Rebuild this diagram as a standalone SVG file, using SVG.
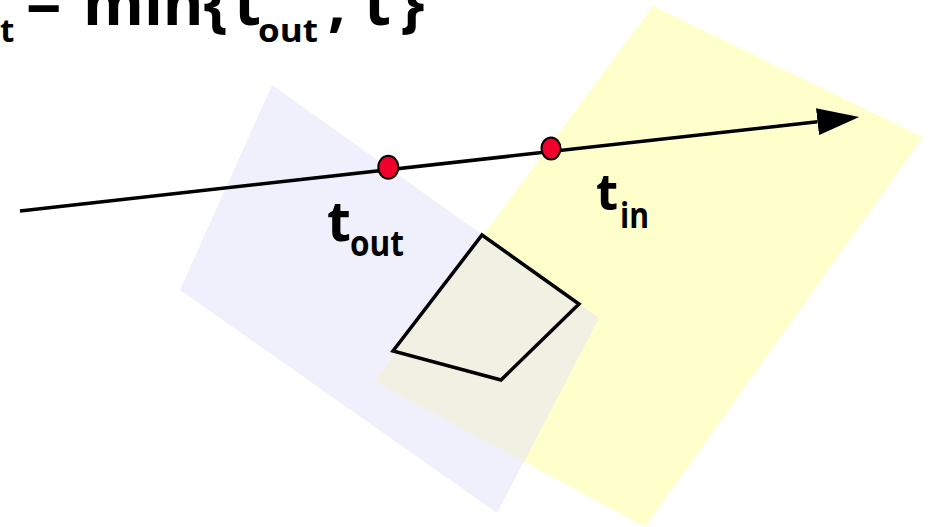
<svg xmlns="http://www.w3.org/2000/svg" width="929" height="527" viewBox="0 0 929 527">
  <style>
    .lbl { font-family: "Open Sans", "Liberation Sans", sans-serif; font-weight: bold; fill: #000; }
    .big { font-size: 62px; }
    .sub { font-size: 33px; }
    .dot { fill: #F0002A; stroke: #000; stroke-width: 2; }
    .edge { stroke: #000; stroke-width: 3.5; fill: none; }
  </style>
  <defs>
    <marker id="arrow" markerUnits="userSpaceOnUse" markerWidth="42" markerHeight="27" viewBox="0 0 42 27" refX="0" refY="13.5" orient="auto">
      <path d="M0,0 L42,13.5 L0,27 z" fill="#000"/>
    </marker>
  </defs>
  <rect width="929" height="527" fill="#FFFFFF"/>

  <g id="half-space-out">
    <polygon points="272,85 599,318 497,513 180,290" fill="#F0F0FC"/>
  </g>
  <g id="half-space-in">
    <polygon points="653,6 923,137 645,527 375,381" fill="#FFFFCC"/>
  </g>
  <g id="overlap">
    <polygon points="483,235.3 599,318 524,462 375,381" fill="#F0F1E3"/>
  </g>
  <g id="polygon">
    <polygon points="482,235 579,304 501,380 393,351" fill="#F0F1E3" stroke="#000" stroke-width="3.5" stroke-linejoin="miter"/>
  </g>

  <g id="connectors">
    <line class="edge" x1="20" y1="211" x2="817.5" y2="121.7" marker-end="url(#arrow)"/>
  </g>

  <g id="point-out">
    <ellipse class="dot" cx="388.3" cy="167.2" rx="10" ry="11.5"/>
  </g>
  <g id="point-in">
    <ellipse class="dot" cx="551" cy="148.5" rx="9.5" ry="11"/>
  </g>

  <g id="label-out">
    <text class="lbl"><tspan x="327" y="241" font-size="55">t</tspan><tspan x="350" y="256" font-size="35" textLength="54" lengthAdjust="spacingAndGlyphs">out</tspan></text>
  </g>
  <g id="label-in">
    <text class="lbl"><tspan x="596" y="210" font-size="51">t</tspan><tspan x="620" y="228" font-size="35" textLength="29" lengthAdjust="spacingAndGlyphs">in</tspan></text>
  </g>

  <g id="formula">
    <text class="lbl"><tspan class="sub" x="0" y="42">t</tspan><tspan class="big" x="26" y="25">=</tspan><tspan class="big" x="83" y="25">min{</tspan><tspan class="big" x="234" y="25">t</tspan><tspan class="sub" x="258" y="42" textLength="60" lengthAdjust="spacingAndGlyphs">out</tspan><tspan class="big" x="328" y="25">,</tspan><tspan class="big" x="364" y="25">t</tspan><tspan class="big" x="400" y="25">}</tspan></text>
  </g>
</svg>
